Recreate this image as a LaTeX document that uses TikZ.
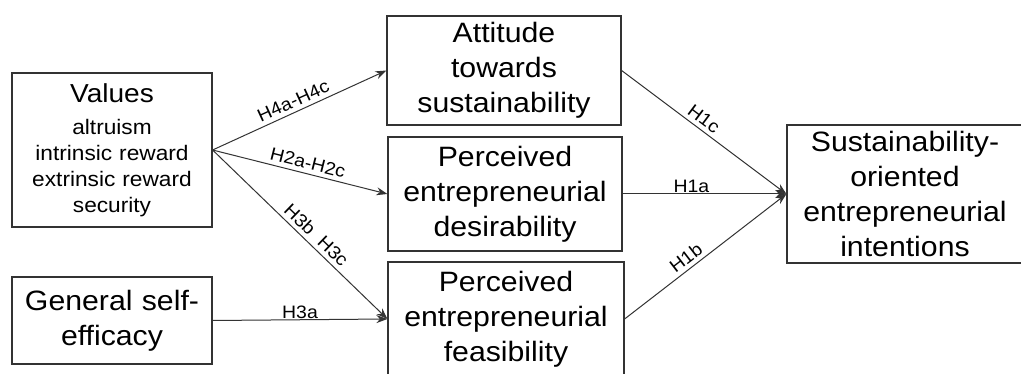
\documentclass[tikz,border=0pt]{standalone}
\usepackage{fontspec}
\setmainfont{Liberation Sans}[FakeStretch=1.08]
\usetikzlibrary{arrows.meta}
\begin{document}
\begin{tikzpicture}[x=1pt,y=-1pt,
  box/.style={draw=black!80, line width=1.2pt, inner sep=0pt, align=center,
    font=\fontsize{28}{35}\selectfont},
  link/.style={draw=black!80, line width=1pt, -{Stealth[length=11pt,width=8pt]}},
  hyp/.style={font=\fontsize{18}{21}\selectfont, inner sep=4pt}]
\useasboundingbox (0,0) rectangle (1021,374);
\fill[white] (0,0) rectangle (1021,374);
\node[box, minimum width=200pt, minimum height=154pt, text width=196pt,
  font=\fontsize{21}{26}\selectfont] (val) at (112,150)
  {{\fontsize{26}{30}\selectfont Values\par}\vspace{6pt}altruism\\intrinsic reward\\extrinsic reward\\security};
\node[box, minimum width=200pt, minimum height=87pt, text width=196pt] (gse) at (112,320.5)
  {General self-\\efficacy};
\node[box, minimum width=234pt, minimum height=109pt, text width=230pt] (att) at (504,70.5)
  {Attitude\\towards\\sustainability};
\node[box, minimum width=234pt, minimum height=114pt, text width=230pt] (des) at (505,194)
  {Perceived\\entrepreneurial\\desirability};
\node[box, minimum width=236pt, minimum height=114pt, text width=232pt] (fea) at (506,319)
  {Perceived\\entrepreneurial\\feasibility};
\node[box, minimum width=236pt, minimum height=138pt, text width=232pt] (sus) at (905,194)
  {Sustainability-\\oriented\\entrepreneurial\\intentions};
\draw[link] (val.east) -- node[hyp, above, sloped, pos=0.49] {H4a-H4c} (att.west);
\draw[link] (val.east) -- node[hyp, above, sloped, pos=0.53] {H2a-H2c} (des.west);
\draw[link] (val.east) -- node[hyp, above, sloped, pos=0.55] {H3b\ \ H3c} (fea.west);
\draw[link] (gse.east) -- node[hyp, above, pos=0.5, inner sep=1pt] {H3a} (fea.west);
\draw[link] (att.east) -- node[hyp, above, sloped, pos=0.46] {H1c} (sus.west);
\draw[link] (des.east) -- node[hyp, above, pos=0.42, inner sep=1pt] {H1a} (sus.west);
\draw[link] (fea.east) -- node[hyp, above, sloped, pos=0.42] {H1b} (sus.west);
\end{tikzpicture}
\end{document}
